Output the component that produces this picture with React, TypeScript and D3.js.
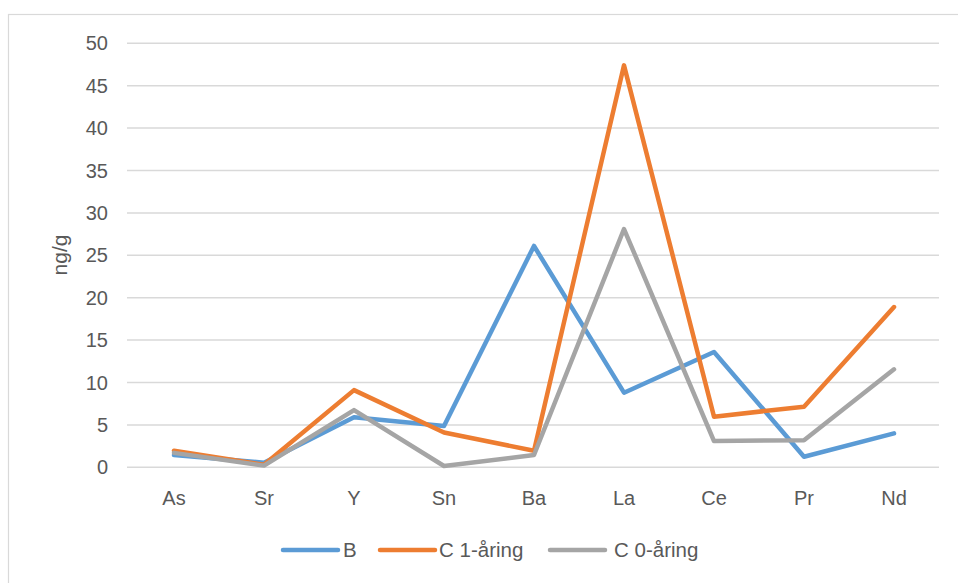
import React from "react";
import * as d3 from "d3";

const categories = ["As", "Sr", "Y", "Sn", "Ba", "La", "Ce", "Pr", "Nd"];
const seriesB = [1.45, 0.55, 5.9, 4.87, 26.1, 8.8, 13.6, 1.25, 4.0];
const seriesC1 = [1.96, 0.3, 9.1, 4.1, 1.96, 47.4, 5.97, 7.15, 18.9];
const seriesC0 = [1.7, 0.2, 6.75, 0.15, 1.45, 28.1, 3.1, 3.2, 11.55];
const yTicks = [0, 5, 10, 15, 20, 25, 30, 35, 40, 45, 50];
const seriesNames = ["B", "C 1-åring", "C 0-åring"];
const colors = ["#5B9BD5", "#ED7D31", "#A5A5A5"];

const W = 958;
const H = 583;
const font = "'Liberation Sans', Arial, sans-serif";

export default function App() {
  const x = d3.scaleBand<string>().domain(categories).range([129, 939]);
  const y = d3.scaleLinear().domain([0, 50]).range([467.3, 43.3]);
  const line = d3
    .line<number>()
    .x((_, i) => (x(categories[i]) as number) + x.bandwidth() / 2)
    .y((d) => y(d));
  const all = [seriesB, seriesC1, seriesC0];
  const legendX = [283, 380, 550];
  const legendTextX = [343, 439, 614];
  return (
    <svg
      width={W}
      height={H}
      style={{ position: "absolute", left: 0, top: 0, background: "#fff" }}
      fontFamily={font}
    >
      <rect x={8.5} y={14.5} width={W + 10} height={H + 10} fill="#fff" stroke="#D9D9D9" strokeWidth={1.2} />
      {yTicks.map((t) => (
        <g key={t}>
          <line x1={127} x2={939} y1={y(t)} y2={y(t)} stroke="#D9D9D9" strokeWidth={1.5} />
          <text x={108} y={y(t)} dy="0.35em" textAnchor="end" fontSize={20} fill="#595959">
            {t}
          </text>
        </g>
      ))}
      {categories.map((c) => (
        <text
          key={c}
          x={(x(c) as number) + x.bandwidth() / 2}
          y={505}
          textAnchor="middle"
          fontSize={20}
          fill="#595959"
        >
          {c}
        </text>
      ))}
      <text
        transform={`translate(67,255) rotate(-90)`}
        textAnchor="middle"
        fontSize={21}
        fill="#595959"
      >
        ng/g
      </text>
      {all.map((s, i) => (
        <path
          key={i}
          d={line(s) as string}
          fill="none"
          stroke={colors[i]}
          strokeWidth={4.5}
          strokeLinejoin="round"
          strokeLinecap="round"
        />
      ))}
      {seriesNames.map((n, i) => (
        <g key={n}>
          <line
            x1={legendX[i]}
            x2={legendX[i] + 55}
            y1={550}
            y2={550}
            stroke={colors[i]}
            strokeWidth={4.5}
            strokeLinecap="round"
          />
          <text x={legendTextX[i]} y={557} fontSize={20.5} fill="#595959">
            {n}
          </text>
        </g>
      ))}
    </svg>
  );
}
